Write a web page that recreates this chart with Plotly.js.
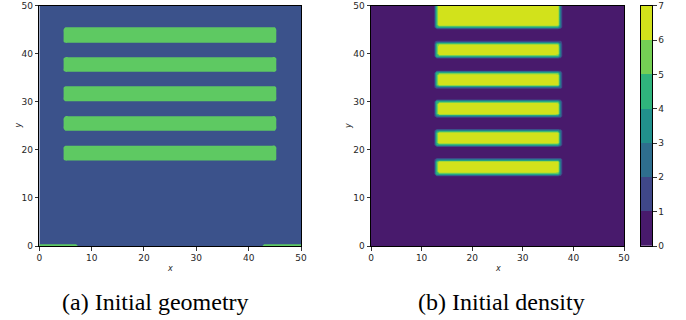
<!DOCTYPE html>
<html>
<head>
<meta charset="utf-8">
<script src="https://cdn.plot.ly/plotly-3.0.1.min.js"></script>
<style>html,body{margin:0;padding:0;background:#fff;}#chart{width:686px;height:320px;}</style>
</head>
<body>
<div id="chart"></div>
<script>
// ---------- data ----------
// (a) initial geometry: solid strips (value 1) on background (value 0)
const geomStripBottom = [42.3, 36.25, 30.1, 24.0, 17.8];
const geomStripTop    = [45.5, 39.3, 33.2, 27.0, 20.9];
const geomStripLeft   = 4.6;
const geomStripRight  = 45.3;
// thin pads on the bottom edge
const geomPadLeft  = [-1.0, 42.6];
const geomPadRight = [7.4, 51.0];
const geomPadTop   = 0.4;

// (b) initial density: strips of density 7 on 0 background
const densPeak = 7;
const densStripBottom = [14.5, 20.6, 26.75, 32.8, 39.0, 45.1];
const densStripTop    = [18.2, 24.3, 30.5, 36.5, 42.6, 55.0];
const densStripLeft   = 12.5;
const densStripRight  = 37.7;
const densEdgeWidth   = 0.85;   // width of the density ramp at strip edges

// contour / colour-bar levels
const densLevels = [0, 1, 2, 3, 4, 5, 6, 7];
const densTickLabels = ['0', '1', '2', '3', '4', '5', '6', '7'];
const axisTicks = [0, 10, 20, 30, 40, 50];

// ---------- colours ----------
const geomColors = ['#3b528b', '#5ec962'];
const densColors = ['#481a6c', '#3f4788', '#2e6e8e', '#21918c', '#2fb47c', '#75d054', '#d2e21b'];

// ---------- build sampled fields from the shapes ----------
const step = 0.5;
const gx = [], gy = [];
for (let i = 0; i <= 100; i++) { gx.push(i * step); gy.push(i * step); }
const clamp01 = v => Math.max(0, Math.min(1, v));

function geomValue(x, y) {
  let v = 0;
  const soft = 0.5;
  for (let k = 0; k < geomStripBottom.length; k++) {
    const rx = clamp01(0.5 + Math.min(x - geomStripLeft, geomStripRight - x) / soft);
    const ry = clamp01(0.5 + Math.min(y - geomStripBottom[k], geomStripTop[k] - y) / soft);
    v = Math.max(v, Math.min(rx, ry));
  }
  for (let k = 0; k < geomPadLeft.length; k++) {
    const rx = clamp01(0.5 + Math.min(x - geomPadLeft[k], geomPadRight[k] - x) / soft);
    const ry = clamp01(0.5 + Math.min(y + 1, geomPadTop - y) / soft);
    v = Math.max(v, Math.min(rx, ry));
  }
  return v;
}
function densValue(x, y) {
  let v = 0;
  for (let k = 0; k < densStripBottom.length; k++) {
    const rx = clamp01((Math.min(x - densStripLeft, densStripRight - x) + 0.1) / densEdgeWidth);
    const ry = clamp01((Math.min(y - densStripBottom[k], densStripTop[k] - y) + 0.1) / densEdgeWidth);
    v = Math.max(v, Math.min(rx, ry));
  }
  return v * densPeak;
}
const geomZ = gy.map(y => gx.map(x => geomValue(x, y)));
const densZ = gy.map(y => gx.map(x => densValue(x, y)));

// colourscales
const geomScale = [[0, geomColors[0]], [1, geomColors[1]]];
const nBands = densColors.length;
const densContourScale = densColors.map((c, i) => [i / (nBands - 1), c]);
const densBarScale = [];
densColors.forEach((c, i) => { densBarScale.push([i / nBands, c]); densBarScale.push([(i + 1) / nBands, c]); });

// colour-bar cells
const barY = densLevels.slice(0, -1).map((l, i) => (l + densLevels[i + 1]) / 2);
const barZ = densLevels.slice(0, -1).map(l => [l]);

const traces = [
  {
    type: 'contour', x: gx, y: gy, z: geomZ, xaxis: 'x', yaxis: 'y',
    autocontour: false,
    contours: {start: 0.5, end: 0.5, size: 1, coloring: 'fill', showlines: false},
    line: {width: 0, smoothing: 1},
    colorscale: geomScale, showscale: false, hoverinfo: 'skip'
  },
  {
    type: 'contour', x: gx, y: gy, z: densZ, xaxis: 'x2', yaxis: 'y2',
    autocontour: false,
    contours: {start: 1, end: 6, size: 1, coloring: 'fill', showlines: false},
    line: {width: 0, smoothing: 0},
    colorscale: densContourScale, showscale: false, hoverinfo: 'skip'
  },
  {
    type: 'heatmap', x: [0.5], y: barY, z: barZ, xaxis: 'x3', yaxis: 'y3',
    zmin: 0, zmax: nBands, colorscale: densBarScale, showscale: false, hoverinfo: 'skip'
  }
];

const W = 686, H = 320;
const px = v => v / W;
const py = v => 1 - v / H;
const tickFont = {family: 'DejaVu Sans, sans-serif', size: 9, color: '#262626'};
const common = {
  range: [0, 50], showgrid: false, zeroline: false, showline: true, linecolor: '#000', linewidth: 1,
  mirror: true, ticks: 'outside', ticklen: 3.5, tickwidth: 0.8, tickcolor: '#000',
  tickvals: axisTicks, ticktext: axisTicks.map(String), tickfont: tickFont, automargin: false, fixedrange: true
};
const yDom = [py(246), py(5.7)];
const capFont = {family: 'Liberation Serif, serif', size: 24, color: '#000'};
const labFont = {family: 'DejaVu Sans, sans-serif', size: 8, color: '#262626'};

const layout = {
  width: W, height: H, margin: {l: 0, r: 0, t: 0, b: 0},
  paper_bgcolor: '#fff', plot_bgcolor: '#fff', showlegend: false,
  xaxis: Object.assign({}, common, {domain: [px(39.3), px(301)], anchor: 'y'}),
  yaxis: Object.assign({}, common, {domain: yDom, anchor: 'x'}),
  xaxis2: Object.assign({}, common, {domain: [px(371), px(624)], anchor: 'y2'}),
  yaxis2: Object.assign({}, common, {domain: yDom, anchor: 'x2'}),
  xaxis3: {domain: [px(640.5), px(652)], anchor: 'y3', range: [0, 1], showgrid: false, zeroline: false,
           showline: true, linecolor: '#000', linewidth: 1, mirror: true, ticks: '', showticklabels: false, fixedrange: true},
  yaxis3: {domain: yDom, anchor: 'x3', side: 'right', range: [densLevels[0], densLevels[densLevels.length - 1]],
           showgrid: false, zeroline: false, showline: true, linecolor: '#000', linewidth: 1, mirror: true,
           ticks: 'outside', ticklen: 3.5, tickwidth: 0.8, tickcolor: '#000',
           tickvals: densLevels, ticktext: densTickLabels, tickfont: tickFont, fixedrange: true},
  annotations: [
    {text: '<i>x</i>', xref: 'paper', yref: 'paper', x: px(170), y: py(268), showarrow: false,
     font: labFont, xanchor: 'center', yanchor: 'middle'},
    {text: '<i>y</i>', xref: 'paper', yref: 'paper', x: px(17.5), y: py(126), showarrow: false, textangle: -90,
     font: labFont, xanchor: 'center', yanchor: 'middle'},
    {text: '<i>x</i>', xref: 'paper', yref: 'paper', x: px(497.5), y: py(268), showarrow: false,
     font: labFont, xanchor: 'center', yanchor: 'middle'},
    {text: '<i>y</i>', xref: 'paper', yref: 'paper', x: px(348), y: py(126), showarrow: false, textangle: -90,
     font: labFont, xanchor: 'center', yanchor: 'middle'},
    {text: '(a) Initial geometry', xref: 'paper', yref: 'paper', x: px(155), y: py(302), showarrow: false,
     font: capFont, xanchor: 'center', yanchor: 'middle'},
    {text: '(b) Initial density', xref: 'paper', yref: 'paper', x: px(501.5), y: py(302), showarrow: false,
     font: capFont, xanchor: 'center', yanchor: 'middle'}
  ]
};

Plotly.newPlot('chart', traces, layout, {staticPlot: true, displayModeBar: false});
</script>
</body>
</html>
